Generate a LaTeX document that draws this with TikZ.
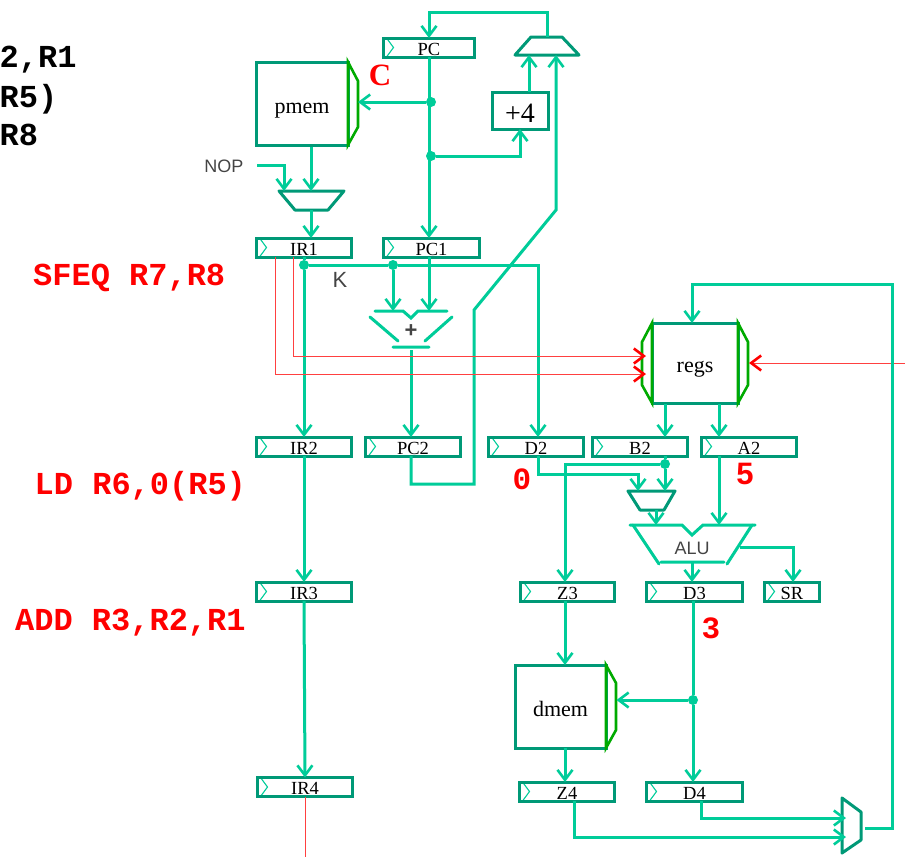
\documentclass[tikz,border=0pt]{standalone}
\usepackage{fontspec}
\setmainfont{Liberation Serif}
\setsansfont{Liberation Sans}
\setmonofont{Liberation Mono}
\usepackage{xcolor}
\usetikzlibrary{positioning, calc, arrows.meta}
\definecolor{wireTeal}{RGB}{0,204,153}
\definecolor{regTeal}{RGB}{0,153,119}
\definecolor{portGreen}{RGB}{0,170,0}
\definecolor{labelGray}{RGB}{68,68,68}
\tikzset{
  pipeReg/.style={rectangle, minimum height=19pt, inner sep=0pt, outer sep=0pt, align=center, draw=regTeal, line width=3pt, font=\fontsize{18.5}{18.5}\selectfont, text height=15pt, text depth=0pt,
    path picture={\draw[wireTeal, line width=1.1pt] ($(path picture bounding box.north west)+(3,0)$) -- ($(path picture bounding box.west)+(10,0)$) -- ($(path picture bounding box.south west)+(3,0)$);}},
  memBox/.style={rectangle, inner sep=0pt, outer sep=0pt, draw=regTeal, line width=3pt, font=\fontsize{22}{22}\selectfont, text height=19pt, text depth=0pt},
  muxLine/.style={draw=regTeal, line width=3pt, line join=round},
  wireDot/.style={circle, fill=wireTeal, inner sep=0pt, minimum size=10pt},
  wireLine/.style={wireTeal, line width=3pt},
  wireArr/.style={wireLine, -{Straight Barb[length=10pt,width=15pt,line width=2.6pt]}},
  ctrlLine/.style={red!75!white, line width=0.9pt},
  ctrlArr/.style={ctrlLine, -{Straight Barb[length=10pt,width=15pt,line width=2.6pt,color=red]}},
  portEdge/.style={portGreen, line width=2.6pt},
  aluStroke/.style={wireLine, line cap=round},
  instrText/.style={anchor=base west, inner sep=0pt, font=\fontsize{32}{32}\selectfont\ttfamily\bfseries},
  stageVal/.style={red, inner sep=0pt, font=\fontsize{31}{31}\selectfont\ttfamily\bfseries},
  sansNote/.style={labelGray, inner sep=0pt, font=\fontsize{18}{18}\selectfont\sffamily},
}
\begin{document}
\begin{tikzpicture}[x=1pt, y=-1pt]
\useasboundingbox (0,0) rectangle (905,857);

\node (pc) [pipeReg, minimum width=91pt] at (429,47.5) {PC};
\node (ir1) [pipeReg, minimum width=95pt] at (304,247.5) {IR1};
\node (pc1) [pipeReg, minimum width=96pt, right=32pt of ir1] {PC1};
\node (ir2) [pipeReg, minimum width=95pt, below=180pt of ir1] {IR2};
\node (pc2) [pipeReg, minimum width=95pt, right=14pt of ir2] {PC2};
\node (d2) [pipeReg, minimum width=95pt, right=28pt of pc2] {D2};
\node (b2) [pipeReg, minimum width=95pt, right=9pt of d2] {B2};
\node (a2) [pipeReg, minimum width=95pt, right=14pt of b2] {A2};
\node (ir3) [pipeReg, minimum width=95pt, below=126pt of ir2] {IR3};
\node (z3) [pipeReg, minimum width=94pt, right=169pt of ir3] {Z3};
\node (d3) [pipeReg, minimum width=96pt, right=32pt of z3] {D3};
\node (sr) [pipeReg, minimum width=55pt, right=22pt of d3] {SR};
\node (ir4) [pipeReg, minimum width=95pt] at (305,787) {IR4};
\node (z4) [pipeReg, minimum width=95pt] at (567,791.5) {Z4};
\node (d4) [pipeReg, minimum width=96pt, right=32pt of z4] {D4};

\node (pmem) [memBox, minimum width=92pt, minimum height=83pt] at (302,103.5) {pmem};
\node (regs) [memBox, minimum width=86pt, minimum height=80pt] at (695,363) {regs};
\node (dmem) [memBox, minimum width=91pt, minimum height=83pt] at (560.5,706.5) {dmem};
\node (plusFour) [memBox, minimum width=56pt, minimum height=37pt, font=\fontsize{28}{28}\selectfont, text height=23pt] at (520,110.5) {+4};

\coordinate (muxPc) at (547,46);
\coordinate (muxIr) at (311.5,200.5);
\coordinate (muxAlu) at (651.5,500.5);
\coordinate (muxWb) at (851.5,825.5);
\draw [muxLine] (muxPc) ++(-32,9) -- ++(16,-18) -- ++(31,0) -- ++(17,18) -- cycle;
\draw [muxLine] (muxIr) ++(-32.5,-9.5) -- ++(16,19) -- ++(33,0) -- ++(16,-19) -- cycle;
\draw [muxLine] (muxAlu) ++(-23.5,-9.5) -- ++(12,19) -- ++(24,0) -- ++(11,-19) -- cycle;
\draw [muxLine] (muxWb) ++(-9.5,-27.5) -- ++(19,14) -- ++(0,28) -- ++(-19,13) -- cycle;

\draw [portEdge] (pmem.north east) -- ++(10,19) -- ++(0,46) -- (pmem.south east) -- cycle;
\draw [portEdge] (regs.north west) -- ++(-10,19) -- ++(0,43) -- (regs.south west) -- cycle;
\draw [portEdge] (regs.north east) -- ++(10,19) -- ++(0,43) -- (regs.south east) -- cycle;
\draw [portEdge] (dmem.north east) -- ++(10,18) -- ++(0,47) -- (dmem.south east) -- cycle;

\node (adder) [labelGray, inner sep=0pt, font=\fontsize{22}{22}\selectfont\sffamily\bfseries] at (411,331) {+};
\node (alu) [sansNote] at (692,548) {ALU};
\coordinate (addOut) at (411,347);
\coordinate (addInL) at (393,311);
\coordinate (addInR) at (429,311);
\coordinate (aluInL) at (656,525);
\coordinate (aluInR) at (719,525);
\coordinate (aluOut) at (692,562);
\coordinate (aluFlag) at (740,547);
\draw [aluStroke] (375,311) -- (403,311) -- (411,318) -- (418,311) -- (447,311);
\draw [aluStroke] (370,317) -- (398,341) (452,317) -- (425,341) (393,347) -- (429,347);
\draw [aluStroke] (630,525) -- (682,525) -- (692,535) -- (703,525) -- (755,525);
\draw [aluStroke] (633,525) -- (659,564) (752,525) -- (727,564) (661,562) -- (724,562);

\node (tapMem) [wireDot] at (431,102) {};
\node (tapAdd) [wireDot] at (431,156) {};
\node (tapIr) [wireDot] at (304,265) {};
\node (tapImm) [wireDot] at (393,265) {};
\node (tapB) [wireDot] at (665,464) {};
\node (tapAddr) [wireDot] at (693,700) {};

\coordinate (nopStart) at (257,165);
\coordinate (wbOut) at (865,828);
\coordinate (regIn) at (905,363);
\coordinate (irEnd) at (305,857);

\draw [wireArr] (muxPc) ++(0,-9) -- ++(0,-25) -| (pc.north);
\draw [wireArr] (pc.south) -- (pc.south |- pc1.north);
\draw [wireArr] (tapMem) -- ([xshift=10pt]pmem.east |- tapMem);
\draw [wireArr] (tapAdd) -| (plusFour.south);
\draw [wireArr] ([xshift=9pt]plusFour.north) -- ([xshift=-18pt,yshift=-9pt]muxPc);
\draw [wireArr] (pc2.south -| 411,0) -- ++(0,28) -- ++(63,0) -- ++(0,-174) -- ++(82,-100) -- ([xshift=9pt,yshift=-9pt]muxPc);

\draw [wireArr] (nopStart) -| ([xshift=-27.5pt,yshift=9.5pt]muxIr);
\draw [wireArr] ([xshift=9pt]pmem.south) ++(0,2) -- ([xshift=-0.5pt,yshift=9.5pt]muxIr);
\draw [wireArr] ([xshift=-0.5pt,yshift=-9.5pt]muxIr) -- (ir1.north -| 311,0);

\draw [wireLine] (ir1.south) -- (tapIr);
\draw [wireArr] (tapIr) -- (ir2.north);
\draw [wireArr] (tapIr) -- (tapImm) -- (538,265) -- (d2.north -| 538,0);
\draw [wireArr] (tapImm) -- (addInL);
\draw [wireArr] (pc1.south -| addInR) -- (addInR);
\draw [wireArr] (addOut) ++(0,3) -- (pc2.north -| addOut);

\draw [ctrlArr] (ir1.south -| 275,0) -- (275,374) -- ([xshift=-6pt]regs.west |- 0,374);
\draw [ctrlArr] (ir1.south -| 293,0) -- (293,356) -- ([xshift=-6pt]regs.west |- 0,356);
\draw [ctrlArr] (regIn) -- ([xshift=11pt]regs.east);
\draw [ctrlLine] (ir4.south) -- (irEnd);

\draw [wireArr] ([xshift=-30pt]regs.south) ++(0,1) -- (b2.north -| 665,0);
\draw [wireArr] ([xshift=24pt]regs.south) ++(0,1) -- (a2.north -| 719,0);
\draw [wireLine] (b2.south -| tapB) -- (tapB);
\draw [wireArr] (tapB) -- ([xshift=13.5pt,yshift=9.5pt]muxAlu);
\draw [wireArr] (tapB) -- (565,464) -- (z3.north -| 565,0);
\draw [wireArr] (d2.south -| 538,0) -- (538,474) -- (638,474) -- ([xshift=-13.5pt,yshift=9.5pt]muxAlu);
\draw [wireArr] ([xshift=4.5pt,yshift=-9.5pt]muxAlu) -- (aluInL);
\draw [wireArr] (a2.south -| aluInR) -- (aluInR);
\draw [wireArr] (aluOut) ++(0,1) -- (d3.north -| aluOut);
\draw [wireArr] (aluFlag) -- (793,547) -- (sr.north -| 793,0);

\draw [wireLine] (d3.south -| tapAddr) -- (tapAddr);
\draw [wireArr] (tapAddr) -- (d4.north -| tapAddr);
\draw [wireArr] (tapAddr) -- ([xshift=10.5pt]dmem.east |- tapAddr);
\draw [wireArr] (z3.south -| 565,0) -- (dmem.north -| 565,0);
\draw [wireArr] (dmem.south -| 565,0) -- (z4.north -| 565,0);
\draw [wireArr] (z4.south -| 574,0) -- (574,837) -- (846,837);
\draw [wireArr] (d4.south -| 701,0) -- (701,818) -- (846,818);
\draw [wireArr] (wbOut) -- (892,828) -- (892,284) -- (692,284) -- (regs.north -| 692,0);

\draw [wireArr] (ir2.south) -- (ir3.north);
\draw [wireArr] (ir3.south) -- (ir4.north);

\node (instrA) [instrText] at (-0.5,67.5) {2,R1};
\node (instrB) [instrText] at (-0.5,107.5) {R5)};
\node (instrC) [instrText] at (-0.5,145.5) {R8};
\node (instrD) [instrText, red] at (33,285.5) {SFEQ R7,R8};
\node (instrE) [instrText, red] at (34.5,494) {LD R6,0(R5)};
\node (instrF) [instrText, red] at (15,630) {ADD R3,R2,R1};
\node (valC) [stageVal, font=\fontsize{31}{31}\selectfont\rmfamily\bfseries] at (380,75) {C};
\node (valZero) [stageVal] at (522,479) {0};
\node (valFive) [stageVal, font=\fontsize{31}{31}\selectfont\sffamily\bfseries] at (745,474) {5};
\node (valThree) [stageVal] at (711,628) {3};
\node (nopLabel) [sansNote] at (224,166) {NOP};
\node (kLabel) [sansNote, font=\fontsize{22}{22}\selectfont\sffamily] at (340,280) {K};
\end{tikzpicture}
\end{document}
